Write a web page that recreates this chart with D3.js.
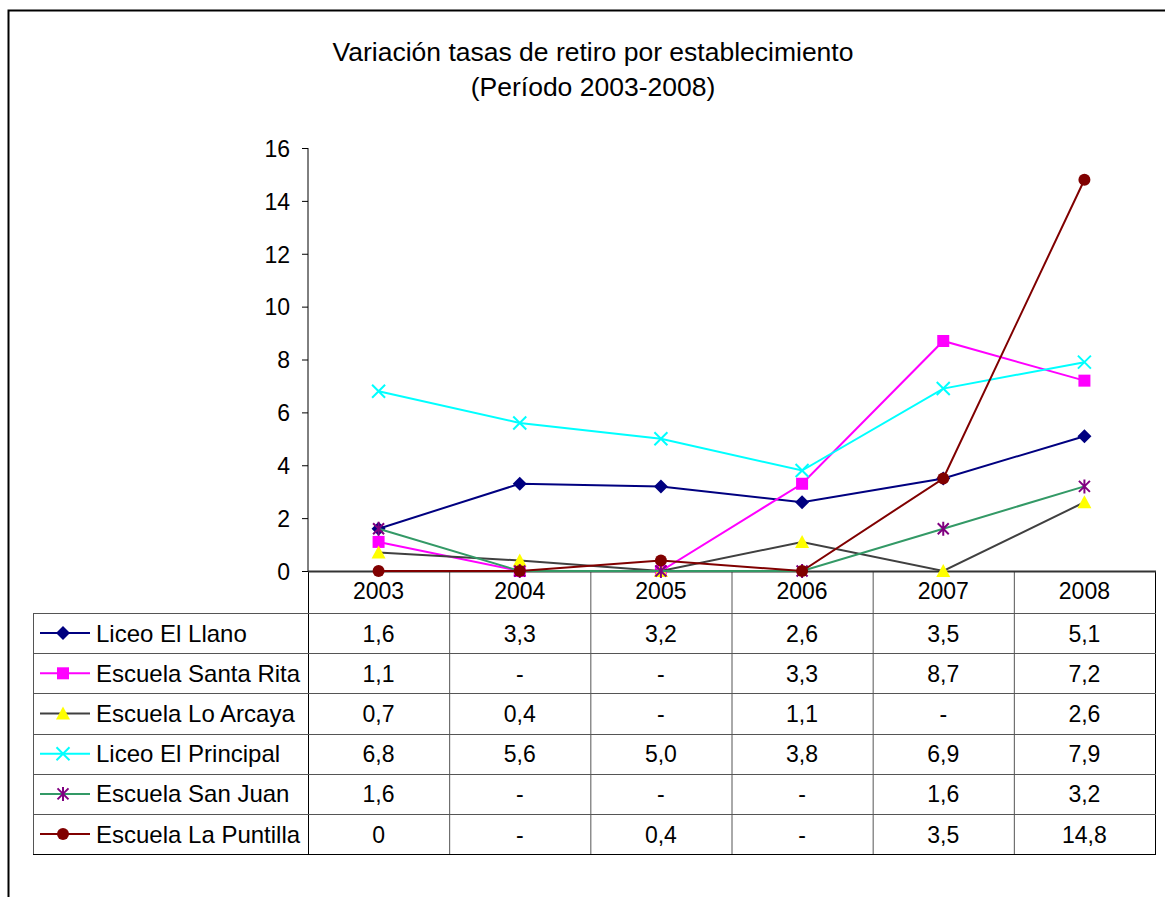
<!DOCTYPE html>
<html>
<head>
<meta charset="utf-8">
<script src="https://cdn.jsdelivr.net/npm/d3@7"></script>
<style>
  body { margin: 0; background: #fff; }
  text { font-family: "Liberation Sans", Arial, sans-serif; fill: #000; }
</style>
</head>
<body>
<svg id="chart" width="1165" height="897"></svg>
<script>
const years = ["2003", "2004", "2005", "2006", "2007", "2008"];
const names = ["Liceo El Llano", "Escuela Santa Rita", "Escuela Lo Arcaya",
               "Liceo El Principal", "Escuela San Juan", "Escuela La Puntilla"];
// null = "-" in the table (drawn at 0 in the chart)
const llano     = [1.6, 3.3, 3.2, 2.6, 3.5, 5.1];
const santaRita = [1.1, null, null, 3.3, 8.7, 7.2];
const loArcaya  = [0.7, 0.4, null, 1.1, null, 2.6];
const principal = [6.8, 5.6, 5.0, 3.8, 6.9, 7.9];
const sanJuan   = [1.6, null, null, null, 1.6, 3.2];
const puntilla  = [0, null, 0.4, null, 3.5, 14.8];
const yTicks = [0, 2, 4, 6, 8, 10, 12, 14, 16];

const lineColors   = ["#000080", "#ff00ff", "#404040", "#00ffff", "#339966", "#800000"];
const markerColors = ["#000080", "#ff00ff", "#ffff00", "#00ffff", "#800080", "#800000"];
const markerTypes  = ["diamond", "square", "triangle", "x", "star", "circle"];

const series = [llano, santaRita, loArcaya, principal, sanJuan, puntilla].map((vals, i) => ({
  name: names[i], values: vals, line: lineColors[i], marker: markerColors[i], type: markerTypes[i]
}));

const svg = d3.select("#chart");
const fs = "23px";

// outer frame
svg.append("rect").attr("x", 8.5).attr("y", 10.5).attr("width", 1200).attr("height", 1000)
  .attr("fill", "none").attr("stroke", "#000").attr("stroke-width", 2);

// title
svg.append("text").attr("x", 593).attr("y", 61).attr("text-anchor", "middle")
  .style("font-size", "26.5px").text("Variación tasas de retiro por establecimiento");
svg.append("text").attr("x", 593).attr("y", 96).attr("text-anchor", "middle")
  .style("font-size", "26.5px").text("(Período 2003-2008)");

const x = d3.scaleBand().domain(years).range([308, 1155]);
const y = d3.scaleLinear().domain([0, 16]).range([571, 148]);

// y axis
const yAxis = svg.append("g").attr("transform", "translate(308,0)")
  .call(d3.axisLeft(y).tickValues(yTicks).tickSize(6).tickPadding(12).tickFormat(d3.format("d")));
yAxis.select(".domain").attr("stroke", "#000").attr("d", "M0," + y(16) + "V" + y(0));
yAxis.selectAll("line").attr("stroke", "#000");
yAxis.selectAll("text").style("font-size", fs).attr("dy", "0.36em")
  .style("font-family", "'Liberation Sans', Arial, sans-serif");

// data table
const rowH = 40.2;
const tableTop = 571, headerBottom = 613;
const tableBottom = headerBottom + rowH * names.length;
const legendLeft = 33;
const tbl = svg.append("g");
const fmt = v => v === null ? "-" : (v === 0 ? "0" : d3.format(".1f")(v).replace(".", ","));

years.forEach(yr => {
  tbl.append("text").attr("x", x(yr) + x.bandwidth() / 2).attr("y", 599)
    .attr("text-anchor", "middle").style("font-size", fs).text(yr);
});
// vertical lines
years.forEach(yr => {
  tbl.append("line").attr("x1", x(yr) + 0.5).attr("x2", x(yr) + 0.5)
    .attr("y1", tableTop).attr("y2", tableBottom).attr("stroke", "#555");
});
tbl.append("line").attr("x1", 1155.5).attr("x2", 1155.5)
  .attr("y1", tableTop).attr("y2", tableBottom).attr("stroke", "#000");
tbl.append("line").attr("x1", 308.5).attr("x2", 308.5)
  .attr("y1", tableTop).attr("y2", tableBottom).attr("stroke", "#000");
tbl.append("line").attr("x1", legendLeft + 0.5).attr("x2", legendLeft + 0.5)
  .attr("y1", headerBottom).attr("y2", tableBottom).attr("stroke", "#555");
// horizontal lines
for (let r = 0; r <= names.length; r++) {
  const yy = Math.round(headerBottom + rowH * r) + 0.5;
  tbl.append("line").attr("x1", legendLeft).attr("x2", 1156).attr("y1", yy).attr("y2", yy)
    .attr("stroke", r === names.length ? "#000" : "#555");
}

function marker(sel, s) {
  if (s.type === "diamond") {
    sel.append("path").attr("d", "M0,-7L7,0L0,7L-7,0Z").attr("fill", s.marker);
  } else if (s.type === "square") {
    sel.append("rect").attr("x", -6).attr("y", -6).attr("width", 12).attr("height", 12).attr("fill", s.marker);
  } else if (s.type === "triangle") {
    sel.append("path").attr("d", "M0,-7L7,6L-7,6Z").attr("fill", s.marker);
  } else if (s.type === "x") {
    sel.append("path").attr("d", "M-6.5,-6.5L6.5,6.5M-6.5,6.5L6.5,-6.5").attr("stroke", s.marker).attr("stroke-width", 2);
  } else if (s.type === "star") {
    sel.append("path").attr("d", "M-5.5,-5.5L5.5,5.5M-5.5,5.5L5.5,-5.5M0,-7V7").attr("stroke", s.marker).attr("stroke-width", 2);
  } else {
    sel.append("circle").attr("r", 6).attr("fill", s.marker);
  }
}

series.forEach((s, i) => {
  const cy = headerBottom + rowH * i + rowH / 2;
  tbl.append("line").attr("x1", 40).attr("x2", 90).attr("y1", cy).attr("y2", cy)
    .attr("stroke", s.line).attr("stroke-width", 2);
  marker(tbl.append("g").attr("transform", `translate(63,${cy})`), s);
  tbl.append("text").attr("x", 96).attr("y", cy + 8.5).style("font-size", "24px").text(s.name);
  s.values.forEach((v, j) => {
    tbl.append("text").attr("x", x(years[j]) + x.bandwidth() / 2).attr("y", cy + 8.5)
      .attr("text-anchor", "middle").style("font-size", fs).text(fmt(v));
  });
});

// x axis line
svg.append("line").attr("x1", 308).attr("x2", 1156).attr("y1", 571.5).attr("y2", 571.5)
  .attr("stroke", "#333").attr("stroke-width", 2);

// lines and markers
const line = d3.line()
  .x((d, j) => x(years[j]) + x.bandwidth() / 2)
  .y(d => y(d === null ? 0 : d));
series.forEach(s => {
  svg.append("path").datum(s.values).attr("d", line)
    .attr("fill", "none").attr("stroke", s.line).attr("stroke-width", 2);
  s.values.forEach((v, j) => {
    marker(svg.append("g")
      .attr("transform", `translate(${x(years[j]) + x.bandwidth() / 2},${y(v === null ? 0 : v)})`), s);
  });
});
</script>
</body>
</html>
